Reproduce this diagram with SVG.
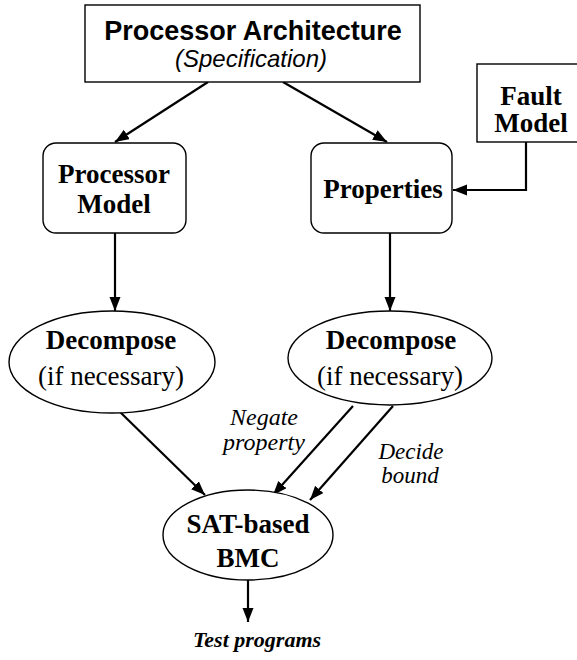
<svg xmlns="http://www.w3.org/2000/svg" width="577" height="660" viewBox="0 0 577 660">
  <style>
    .box { fill: #fff; stroke: #000; stroke-width: 1.4; }
    .edge { fill: none; stroke: #000; stroke-width: 2.2; }
    .sans { font-family: "Liberation Sans", Arial, sans-serif; fill: #000; text-anchor: middle; }
    .serif { font-family: "Liberation Serif", "Times New Roman", serif; fill: #000; text-anchor: middle; }
    .b { font-weight: bold; }
    .i { font-style: italic; }
  </style>
  <defs>
    <marker id="arrow" markerUnits="userSpaceOnUse" markerWidth="15" markerHeight="12" refX="14" refY="5.5" orient="auto">
      <path d="M0,0 L14,5.5 L0,11 z" fill="#000"/>
    </marker>
  </defs>

  <rect width="577" height="660" fill="#fff"/>

  <g id="connectors">
    <line class="edge" x1="208" y1="82" x2="115" y2="142" marker-end="url(#arrow)"/>
    <line class="edge" x1="283" y1="82" x2="387" y2="142" marker-end="url(#arrow)"/>
    <path class="edge" d="M526 142 V190 H453" marker-end="url(#arrow)"/>
    <line class="edge" x1="115" y1="233" x2="115" y2="311" marker-end="url(#arrow)"/>
    <line class="edge" x1="390" y1="233" x2="390" y2="311" marker-end="url(#arrow)"/>
    <line class="edge" x1="119" y1="411" x2="205" y2="495" marker-end="url(#arrow)"/>
    <line class="edge" x1="353" y1="406" x2="273" y2="495" marker-end="url(#arrow)"/>
    <line class="edge" x1="393" y1="406" x2="310" y2="500" marker-end="url(#arrow)"/>
    <line class="edge" x1="248" y1="580" x2="248" y2="622" marker-end="url(#arrow)"/>
    <text class="serif i" font-size="24" x="264" y="425">Negate</text>
    <text class="serif i" font-size="24" x="264" y="450">property</text>
    <text class="serif i" font-size="23" x="411" y="459">Decide</text>
    <text class="serif i" font-size="23" x="410" y="483">bound</text>
  </g>

  <g id="architecture">
    <rect class="box" x="85" y="5" width="335" height="77"/>
    <text class="sans b" font-size="27" x="253" y="40">Processor Architecture</text>
    <text class="sans i" font-size="24" x="251" y="67">(Specification)</text>
  </g>

  <g id="fault-model">
    <rect class="box" x="477" y="64" width="110" height="78"/>
    <text class="serif b" font-size="27" x="531" y="105">Fault</text>
    <text class="serif b" font-size="27" x="531" y="132">Model</text>
  </g>

  <g id="processor-model">
    <rect class="box" x="43" y="143" width="143" height="90" rx="13"/>
    <text class="serif b" font-size="27" x="114" y="183">Processor</text>
    <text class="serif b" font-size="27" x="114" y="213">Model</text>
  </g>

  <g id="properties">
    <rect class="box" x="311" y="143" width="141" height="90" rx="13"/>
    <text class="serif b" font-size="27" x="383" y="198">Properties</text>
  </g>

  <g id="decompose-model">
    <ellipse class="box" cx="112" cy="362" rx="103" ry="51"/>
    <text class="serif b" font-size="27" x="111" y="349">Decompose</text>
    <text class="serif" font-size="27" x="111" y="385">(if necessary)</text>
  </g>

  <g id="decompose-properties">
    <ellipse class="box" cx="390" cy="358" rx="102" ry="47"/>
    <text class="serif b" font-size="27" x="391" y="349">Decompose</text>
    <text class="serif" font-size="27" x="390" y="385">(if necessary)</text>
  </g>

  <g id="bmc">
    <ellipse class="box" cx="248" cy="535" rx="85" ry="45"/>
    <text class="serif b" font-size="27" x="248" y="533">SAT-based</text>
    <text class="serif b" font-size="27" x="248" y="567">BMC</text>
  </g>

  <g id="test-programs">
    <text class="serif b i" font-size="22" x="257" y="647">Test programs</text>
  </g>
</svg>
